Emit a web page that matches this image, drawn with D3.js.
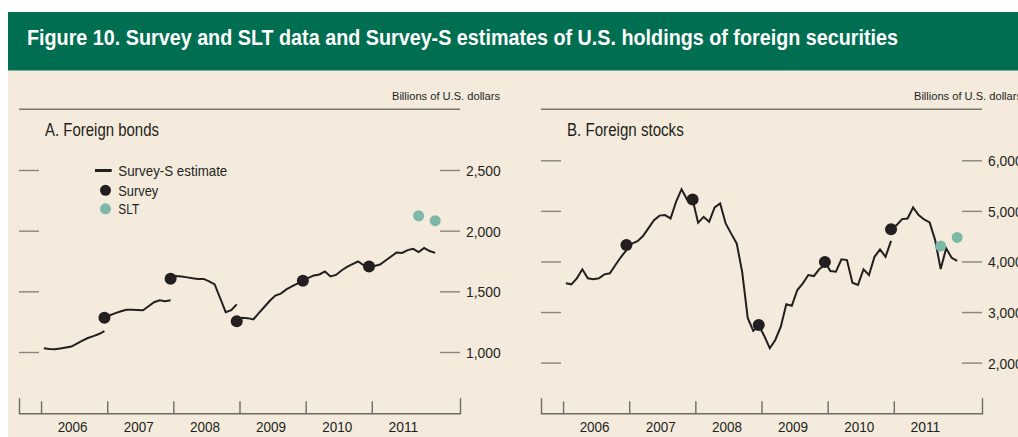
<!DOCTYPE html>
<html>
<head>
<meta charset="utf-8">
<script src="https://cdn.jsdelivr.net/npm/d3@7"></script>
<style>
  html, body { margin: 0; padding: 0; background: #ffffff; }
  svg { display: block; }
  text { font-family: "Liberation Sans", Arial, Helvetica, sans-serif; fill: #231f20; }
</style>
</head>
<body>
<svg id="chart" width="1018" height="437"></svg>
<script>
// ---------------- DATA ----------------
const titleText = "Figure 10. Survey and SLT data and Survey-S estimates of U.S. holdings of foreign securities";
const unitsLabel = "Billions of U.S. dollars";
const panelTitles = ["A. Foreign bonds", "B. Foreign stocks"];
const years = [2006, 2007, 2008, 2009, 2010, 2011];
const legendLabels = ["Survey-S estimate", "Survey", "SLT"];

const bondTicks = [1000, 1500, 2000, 2500];
const stockTicks = [2000, 3000, 4000, 5000, 6000];

// Survey-S estimate segments (monthly, billions). Each starts at the given month "YYYY-MM".
const bondSeg1Start = "2006-01";
const bondSeg1 = [1030, 1025, 1022, 1029, 1037, 1045, 1070, 1094, 1115, 1131, 1148, 1172];
const bondSeg2Start = "2006-12";
const bondSeg2 = [1284, 1303, 1320, 1336, 1348, 1348, 1346, 1344, 1377, 1410, 1426, 1418, 1426];
const bondSeg3Start = "2007-12";
const bondSeg3 = [1604, 1627, 1623, 1615, 1607, 1602, 1602, 1582, 1557, 1443, 1328, 1344, 1393];
const bondSeg4Start = "2008-12";
const bondSeg4 = [1254, 1283, 1279, 1268, 1320, 1371, 1422, 1465, 1481, 1516, 1541, 1563, 1586];
const bondSeg5Start = "2009-12";
const bondSeg5 = [1590, 1611, 1631, 1639, 1664, 1623, 1635, 1672, 1701, 1725, 1746, 1717, 1705];
const bondSeg6Start = "2010-12";
const bondSeg6 = [1705, 1709, 1721, 1754, 1787, 1820, 1816, 1840, 1850, 1824, 1857, 1832, 1817];

const bondSurveyMonths = ["2006-12", "2007-12", "2008-12", "2009-12", "2010-12"];
const bondSurvey = [1283, 1604, 1254, 1588, 1705];
const bondSLTMonths = ["2011-09", "2011-12"];
const bondSLT = [2123, 2082];

const stockSeg1Start = "2006-01";
const stockSeg1 = [3567, 3548, 3666, 3844, 3666, 3646, 3666, 3745, 3765, 3929, 4087, 4225];
const stockSeg2Start = "2006-12";
const stockSeg2 = [4323, 4353, 4402, 4501, 4659, 4817, 4906, 4916, 4850, 5178, 5429, 5225, 5207];
const stockSeg3Start = "2007-12";
const stockSeg3 = [5227, 4764, 4882, 4783, 5068, 5147, 4752, 4550, 4357, 3790, 2882, 2626, 2724];
const stockSeg4Start = "2008-12";
const stockSeg4 = [2744, 2527, 2284, 2448, 2711, 3153, 3125, 3435, 3567, 3731, 3711, 3850, 3929];
const stockSeg5Start = "2009-12";
const stockSeg5 = [3990, 3810, 3796, 4041, 4027, 3579, 3534, 3844, 3731, 4092, 4239, 4092, 4408];
const stockSeg6Start = "2010-12";
const stockSeg6 = [4639, 4718, 4837, 4850, 5068, 4916, 4831, 4771, 4422, 3850, 4258, 4073, 4013];

const stockSurveyMonths = ["2006-12", "2007-12", "2008-12", "2009-12", "2010-12"];
const stockSurvey = [4323, 5227, 2744, 3990, 4639];
const stockSLTMonths = ["2011-09", "2011-12"];
const stockSLT = [4304, 4475];

// ---------------- HELPERS ----------------
const INK = "#231f20";
const TICK = "#8a847e";
const GREEN = "#006e50";
const BEIGE = "#f4ebdd";
const TEAL = "#7db8a8";

// month index (months since Jan 2006), placed at mid-month
function mIndex(s) {
  const [y, m] = s.split("-").map(Number);
  return (y - 2006) * 12 + (m - 1) + 0.5;
}
function segment(start, vals) {
  const s = mIndex(start);
  return vals.map((v, i) => ({ m: s + i, v }));
}
function points(months, vals) {
  return months.map((mo, i) => ({ m: mIndex(mo), v: vals[i] }));
}

const svg = d3.select("#chart");

// backgrounds
svg.append("rect").attr("x", 8).attr("y", 12).attr("width", 1010).attr("height", 58.7).attr("fill", GREEN);
svg.append("rect").attr("x", 8).attr("y", 70.7).attr("width", 1010).attr("height", 366.3).attr("fill", BEIGE);

svg.append("text")
  .attr("x", 27).attr("y", 44.5)
  .attr("font-size", 22).attr("font-weight", "bold")
  .attr("textLength", 871).attr("lengthAdjust", "spacingAndGlyphs")
  .style("fill", "#ffffff")
  .text(titleText);

const panels = [
  {
    dx: 0, title: panelTitles[0], titleW: 114,
    segs: [segment(bondSeg1Start, bondSeg1), segment(bondSeg2Start, bondSeg2), segment(bondSeg3Start, bondSeg3),
           segment(bondSeg4Start, bondSeg4), segment(bondSeg5Start, bondSeg5), segment(bondSeg6Start, bondSeg6)],
    survey: points(bondSurveyMonths, bondSurvey),
    slt: points(bondSLTMonths, bondSLT),
    yDomain: [1000, 2500], yRange: [352, 170], ticks: bondTicks, legend: true
  },
  {
    dx: 522, title: panelTitles[1], titleW: 116.7,
    segs: [segment(stockSeg1Start, stockSeg1), segment(stockSeg2Start, stockSeg2), segment(stockSeg3Start, stockSeg3),
           segment(stockSeg4Start, stockSeg4), segment(stockSeg5Start, stockSeg5), segment(stockSeg6Start, stockSeg6)],
    survey: points(stockSurveyMonths, stockSurvey),
    slt: points(stockSLTMonths, stockSLT),
    yDomain: [2000, 6000], yRange: [362.6, 160.3], ticks: stockTicks, legend: false
  }
];

panels.forEach(p => {
  const g = svg.append("g").attr("transform", `translate(${p.dx},0)`);
  const x = d3.scaleLinear().domain([-4, 76]).range([19, 460]);
  const y = d3.scaleLinear().domain(p.yDomain).range(p.yRange);

  // units label and top rule
  g.append("text").attr("x", 500).attr("y", 100).attr("text-anchor", "end")
    .attr("font-size", 11.5).attr("textLength", 108).attr("lengthAdjust", "spacingAndGlyphs")
    .text(unitsLabel);
  g.append("line").attr("x1", 19).attr("x2", 460).attr("y1", 109.3).attr("y2", 109.3)
    .attr("stroke", "#7b7570").attr("stroke-width", 1.5);
  g.append("text").attr("x", 45).attr("y", 136).attr("font-size", 17.5)
    .attr("textLength", p.titleW).attr("lengthAdjust", "spacingAndGlyphs")
    .text(p.title);

  // y axes (left ticks, right ticks + labels)
  const yRight = d3.axisRight(y).tickValues(p.ticks).tickSize(20).tickPadding(6).tickFormat(d3.format(","));
  const gr = g.append("g").attr("transform", "translate(440,0)").call(yRight);
  gr.select(".domain").remove();
  gr.selectAll(".tick line").attr("stroke", TICK).attr("stroke-width", 1.4);
  gr.selectAll(".tick text").attr("font-size", 15.5).attr("font-family", null).style("fill", INK)
    .attr("dy", "0.35em").attr("textLength", 34.7).attr("lengthAdjust", "spacingAndGlyphs");

  const yLeft = d3.axisRight(y).tickValues(p.ticks).tickSize(20).tickFormat("");
  const gl = g.append("g").attr("transform", "translate(19,0)").call(yLeft);
  gl.select(".domain").remove();
  gl.selectAll(".tick line").attr("stroke", TICK).attr("stroke-width", 1.4);

  // x axis
  const xAxis = d3.axisBottom(x).tickValues(years.map((yr, i) => i * 12)).tickSize(-12).tickSizeOuter(-15).tickFormat("");
  const gx = g.append("g").attr("transform", "translate(0,413.3)").call(xAxis);
  gx.select(".domain").attr("stroke", "#6f6a66").attr("stroke-width", 1.4).attr("fill", "none");
  gx.selectAll(".tick line").attr("stroke", "#6f6a66").attr("stroke-width", 1.4);

  g.selectAll(".yearlab").data(years).enter().append("text")
    .attr("class", "yearlab")
    .attr("x", (d, i) => x(i * 12 + 6) - 16.5)
    .attr("y", 431.7)
    .attr("font-size", 15.5)
    .attr("textLength", 30).attr("lengthAdjust", "spacingAndGlyphs")
    .text(d => d);

  // lines
  const line = d3.line().x(d => x(d.m)).y(d => y(d.v));
  g.selectAll(".seg").data(p.segs).enter().append("path")
    .attr("d", line).attr("fill", "none").attr("stroke", INK).attr("stroke-width", 2)
    .attr("stroke-linejoin", "miter");

  // survey dots
  g.selectAll(".sv").data(p.survey).enter().append("circle")
    .attr("cx", d => x(d.m)).attr("cy", d => y(d.v)).attr("r", 6).attr("fill", INK);
  // SLT dots
  g.selectAll(".slt").data(p.slt).enter().append("circle")
    .attr("cx", d => x(d.m)).attr("cy", d => y(d.v)).attr("r", 5.5).attr("fill", TEAL);

  if (p.legend) {
    const lg = g.append("g");
    lg.append("line").attr("x1", 95).attr("x2", 111.7).attr("y1", 170.5).attr("y2", 170.5)
      .attr("stroke", INK).attr("stroke-width", 3);
    lg.append("circle").attr("cx", 105.5).attr("cy", 190.3).attr("r", 5.5).attr("fill", INK);
    lg.append("circle").attr("cx", 105.5).attr("cy", 208.8).attr("r", 5.5).attr("fill", TEAL);
    const lw = [109, 40, 21];
    const ly = [176, 195.5, 214];
    lg.selectAll(".lt").data(legendLabels).enter().append("text")
      .attr("x", 118.3).attr("y", (d, i) => ly[i]).attr("font-size", 15)
      .attr("textLength", (d, i) => lw[i]).attr("lengthAdjust", "spacingAndGlyphs")
      .text(d => d);
  }
});
</script>
</body>
</html>
